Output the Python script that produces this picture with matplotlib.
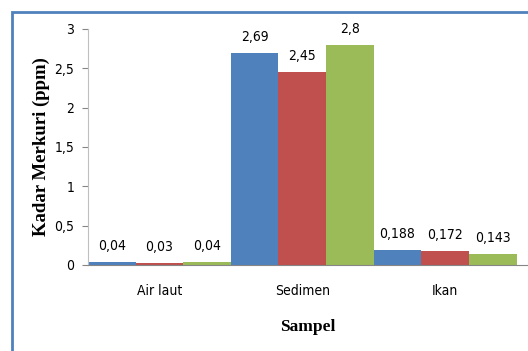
import numpy as np
import matplotlib.pyplot as plt
from matplotlib.patches import Rectangle

# data
sampel = ['Air laut', 'Sedimen', 'Ikan']
seri1 = [0.04, 2.69, 0.188]
seri2 = [0.03, 2.45, 0.172]
seri3 = [0.04, 2.8, 0.143]
label1 = ['0,04', '2,69', '0,188']
label2 = ['0,03', '2,45', '0,172']
label3 = ['0,04', '2,8', '0,143']
yticks = [0, 0.5, 1, 1.5, 2, 2.5, 3]
ytick_labels = ['0', '0,5', '1', '1,5', '2', '2,5', '3']

warna = ['#4F81BD', '#C0504D', '#9BBB59']
narrow = ['Liberation Sans Narrow', 'DejaVu Sans']

fig = plt.figure(figsize=(5.28, 3.51), dpi=100)
ax = fig.add_axes([88/528, 86/351, 1 - 88/528, 236/351])

x = np.arange(len(sampel))
w = 1/3
for i, (vals, labs) in enumerate(zip([seri1, seri2, seri3], [label1, label2, label3])):
	pos = x + (i - 1) * w
	ax.bar(pos, vals, w, color=warna[i], edgecolor='none')
	for p, v, t in zip(pos, vals, labs):
		ax.annotate(t, (p, v), xytext=(0, 11.5), textcoords='offset points',
			ha='center', va='center', fontsize=10, family=narrow, stretch='condensed')

ax.set_xlim(-0.5, 2.58)
ax.set_ylim(0, 3)
ax.set_yticks(yticks)
ax.set_yticklabels(ytick_labels, family=narrow, fontsize=10, stretch='condensed')
ax.set_xticks(x)
ax.set_xticklabels(sampel, family=narrow, fontsize=10, stretch='condensed')
ax.tick_params(axis='x', length=0, pad=14)
ax.tick_params(axis='y', length=4, color='#868686', pad=6)
for s in ['top', 'right']:
	ax.spines[s].set_visible(False)
ax.spines['left'].set_color('#BFBFBF')
ax.spines['bottom'].set_color('#868686')

ax.set_ylabel('Kadar Merkuri (ppm)', family='Liberation Serif', fontweight='bold', fontsize=13.5, labelpad=3)
ax.set_xlabel('Sampel', family='Liberation Serif', fontweight='bold', fontsize=12.5, labelpad=15)

# bingkai biru
fig.patches.append(Rectangle((11.5/528, -0.1), 1.2, 1.1 - 12/351,
	transform=fig.transFigure, fill=False, edgecolor='#4F81BD', linewidth=2, zorder=-1))

fig.savefig('out.png', dpi=100)
